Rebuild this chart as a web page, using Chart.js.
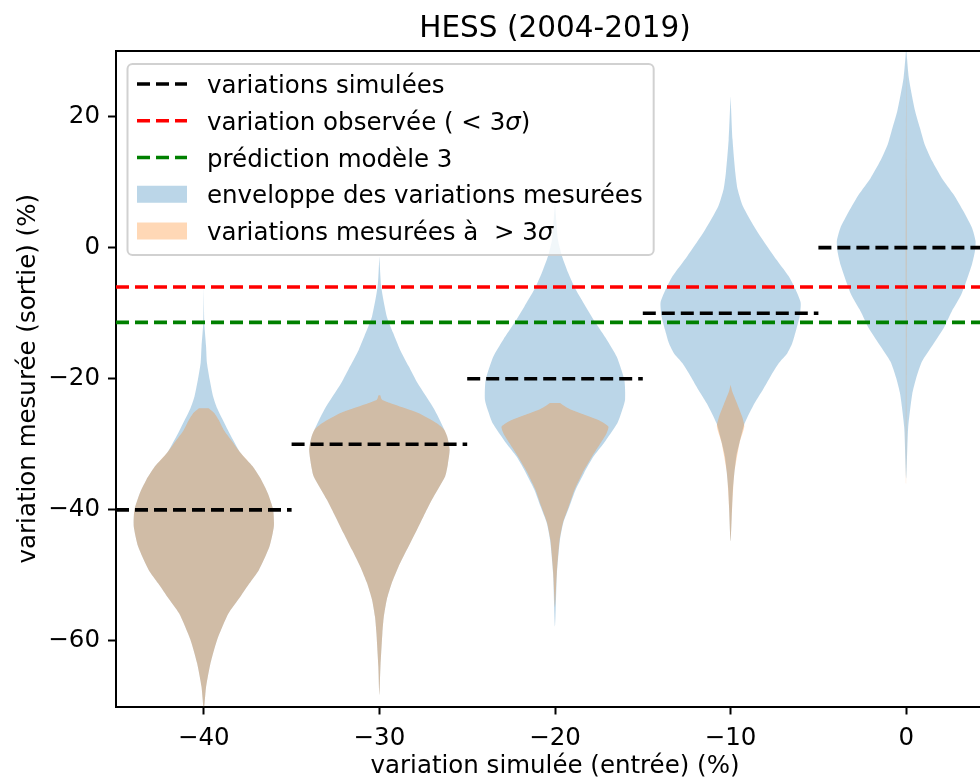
<!DOCTYPE html>
<html lang="fr">
<head>
<meta charset="utf-8">
<title>HESS (2004-2019)</title>
<script src="https://cdn.jsdelivr.net/npm/chart.js@4.4.1/dist/chart.umd.min.js"></script>
<style>
    html, body { margin: 0; padding: 0; background: #fff; overflow: hidden; }
    canvas { display: block; }
</style>
</head>
<body>
<canvas id="violin-chart" width="994" height="780"></canvas>
<script>
// Simulated input variations (violin positions) and their expected outputs
const positions = [-40, -30, -20, -10, 0];
const simulatedVariation = [-40, -30, -20, -10, 0];
const observedVariation = -6;
const model3Prediction = -11.4;

// Tick labels
const xTickValues = [-40, -30, -20, -10, 0];
const yTickValues = [-60, -40, -20, 0, 20];

const envelopeM40 = [[-6, 0], [-11.5, 0.03], [-15.1, 0.13], [-17.6, 0.18], [-20.2, 0.34], [-22.7, 0.53], [-24.5, 0.76], [-27.8, 1.37], [-31.3, 2.09], [-33.4, 2.79], [-35.4, 3.27], [-37.5, 3.65], [-40.0, 3.95], [-42.5, 3.99], [-45.6, 3.74], [-49.2, 3.13], [-51.2, 2.6], [-53.2, 2.09], [-55.8, 1.4], [-59.8, 0.76], [-63.4, 0.38], [-67.0, 0.13], [-70.5, 0]];
const sigmaM40 = [[-24.5, 0.28], [-25.2, 0.58], [-26.3, 0.85], [-27.8, 1.14], [-29.5, 1.6], [-31.3, 2.09], [-33.4, 2.79], [-35.4, 3.27], [-37.5, 3.65], [-40.0, 3.95], [-42.5, 3.99], [-45.6, 3.74], [-49.2, 3.13], [-51.2, 2.6], [-53.2, 2.09], [-55.8, 1.4], [-59.8, 0.76], [-63.4, 0.38], [-67.0, 0.13], [-70.5, 0]];

const envelopeM30 = [[-1.3, 0], [-5.9, 0.1], [-10.5, 0.42], [-13.0, 0.78], [-15.6, 1.18], [-18.1, 1.67], [-20.7, 2.18], [-24.7, 3.13], [-28.8, 3.86], [-30.8, 4.0], [-33.0, 3.9], [-34.9, 3.74], [-38.5, 2.98], [-41.0, 2.51], [-43.6, 2.03], [-46.1, 1.56], [-48.7, 1.08], [-51.2, 0.7], [-53.7, 0.42], [-56.3, 0.25], [-58.8, 0.17], [-63.9, 0.06], [-68.2, 0]];
const sigmaM30 = [[-22.5, 0.05], [-23.2, 0.15], [-23.7, 0.61], [-25.2, 2.18], [-26.8, 3.27], [-27.8, 3.7], [-28.8, 3.86], [-30.8, 4.0], [-33.0, 3.9], [-34.9, 3.74], [-38.5, 2.98], [-41.0, 2.51], [-43.6, 2.03], [-46.1, 1.56], [-48.7, 1.08], [-51.2, 0.7], [-53.7, 0.42], [-56.3, 0.25], [-58.8, 0.17], [-63.9, 0.06], [-68.2, 0]];

const envelopeM20 = [[7.0, 0], [1.2, 0.17], [-1.3, 0.4], [-3.9, 0.76], [-6.4, 1.18], [-9.0, 1.75], [-11.5, 2.32], [-14.0, 2.94], [-16.6, 3.51], [-20.2, 3.95], [-23.2, 3.99], [-25.0, 3.8], [-26.8, 3.55], [-29.8, 2.79], [-31.9, 2.18], [-34.4, 1.65], [-36.9, 1.18], [-39.5, 0.82], [-42.0, 0.47], [-44.6, 0.28], [-49.7, 0.11], [-57.8, 0]];
const sigmaM20 = [[-23.7, 0.28], [-24.7, 0.89], [-26.3, 2.47], [-27.3, 3.04], [-28.3, 2.94], [-29.8, 2.6], [-31.9, 2.1], [-34.4, 1.56], [-36.9, 1.12], [-39.5, 0.78], [-42.0, 0.45], [-44.6, 0.26], [-49.7, 0.1], [-54.8, 0]];

const envelopeM10 = [[23.1, 0], [16.5, 0.11], [11.4, 0.27], [8.9, 0.4], [6.3, 0.7], [2.7, 1.46], [-1.3, 2.47], [-4.4, 3.32], [-6.4, 3.7], [-8.4, 3.99], [-10.5, 3.93], [-12.5, 3.74], [-14.6, 3.51], [-16.1, 3.23], [-17.6, 2.75], [-19.6, 2.28], [-21.7, 1.83], [-23.7, 1.37], [-26.8, 0.8], [-29.8, 0.5], [-31.9, 0.32], [-36.9, 0.13], [-44.8, 0]];
const sigmaM10 = [[-20.9, 0], [-22.0, 0.1], [-23.2, 0.28], [-25.8, 0.66], [-27.3, 0.78], [-29.8, 0.51], [-34.4, 0.21], [-39.5, 0.09], [-44.8, 0]];

const envelope0 = [[30.5, 0], [25.9, 0.15], [20.8, 0.51], [18.3, 0.78], [15.7, 1.06], [13.2, 1.48], [10.6, 2.03], [8.1, 2.7], [5.5, 3.27], [3.0, 3.75], [1.0, 3.95], [-0.6, 3.91], [-2.6, 3.74], [-7.2, 3.13], [-9.7, 2.6], [-12.3, 2.13], [-14.8, 1.52], [-17.4, 0.89], [-19.9, 0.57], [-22.4, 0.34], [-27.5, 0.11], [-35.2, 0]];
const sigma0 = [[30, 0], [10, 0.02], [-10, 0.02], [-36, 0]];

const envelopes = [envelopeM40, envelopeM30, envelopeM20, envelopeM10, envelope0];
const sigmas = [sigmaM40, sigmaM30, sigmaM20, sigmaM10, sigma0];

// Styles
const blueFill = 'rgba(31, 119, 180, 0.3)';
const orangeFill = 'rgba(255, 127, 14, 0.3)';
const dash = [13, 6];
const segmentHalfSpan = 5;
const fontSize = 24.5;

Chart.defaults.font.family = "'DejaVu Sans', sans-serif";
Chart.defaults.font.size = fontSize;
Chart.defaults.color = '#000';

// Build a closed violin outline (right side down, left side back up)
function outline(center, profile) {
    const right = profile.map(([y, w]) => ({ x: center + w, y: y }));
    const left = profile.slice().reverse().map(([y, w]) => ({ x: center - w, y: y }));
    if (profile[profile.length - 1][1] === 0) left.shift();
    return right.concat(left);
}

function fmtTick(value) {
    return value < 0 ? '\u2212' + Math.abs(value) : String(value);
}

const datasets = [];

// Reference lines on top
datasets.push({
    label: 'variation observée',
    data: [{ x: -45, y: observedVariation }, { x: 5, y: observedVariation }],
    borderColor: '#ff0000', borderWidth: 3.6, borderDash: dash, order: 0
});
datasets.push({
    label: 'prédiction modèle 3',
    data: [{ x: -45, y: model3Prediction }, { x: 5, y: model3Prediction }],
    borderColor: '#008000', borderWidth: 3.6, borderDash: dash, order: 0
});
simulatedVariation.forEach((v, i) => {
    datasets.push({
        label: 'variations simulées',
        data: [{ x: positions[i] - segmentHalfSpan, y: v }, { x: positions[i] + segmentHalfSpan, y: v }],
        borderColor: '#000', borderWidth: 3.6, borderDash: dash, order: 0
    });
});

// Violins: orange (> 3 sigma) above blue envelope
positions.forEach((p, i) => {
    datasets.push({
        label: 'variations mesurées > 3σ',
        data: outline(p, sigmas[i]),
        backgroundColor: orangeFill, borderColor: 'rgba(0,0,0,0)',
        fill: 'shape', tension: 0.2, order: 1
    });
    datasets.push({
        label: 'enveloppe des variations mesurées',
        data: outline(p, envelopes[i]),
        backgroundColor: blueFill, borderColor: 'rgba(0,0,0,0)',
        fill: 'shape', tension: 0.2, order: 2
    });
});

// Top spine
const framePlugin = {
    id: 'frame',
    afterDatasetsDraw(chart) {
        const { ctx, chartArea } = chart;
        ctx.save();
        ctx.strokeStyle = '#000';
        ctx.lineWidth = 2;
        ctx.beginPath();
        ctx.moveTo(chartArea.left, chartArea.top);
        ctx.lineTo(chartArea.right, chartArea.top);
        ctx.lineTo(chartArea.right, chartArea.bottom);
        ctx.stroke();
        ctx.restore();
    }
};

// Legend entries (drawn inside the axes, upper left)
const legendEntries = [
    { kind: 'line', color: '#000', parts: [{ t: 'variations simulées' }] },
    { kind: 'line', color: '#ff0000', parts: [{ t: 'variation observée ( < 3' }, { t: 'σ', italic: true }, { t: ')' }] },
    { kind: 'line', color: '#008000', parts: [{ t: 'prédiction modèle 3' }] },
    { kind: 'patch', color: blueFill, parts: [{ t: 'enveloppe des variations mesurées' }] },
    { kind: 'patch', color: orangeFill, parts: [{ t: 'variations mesurées à  > 3' }, { t: 'σ', italic: true }] }
];

const legendPlugin = {
    id: 'insideLegend',
    afterDraw(chart) {
        const { ctx, chartArea } = chart;
        const boxLeft = chartArea.left + 11.5;
        const boxTop = chartArea.top + 13;
        const handleX = boxLeft + 9.5;
        const handleW = 50;
        const textX = handleX + handleW + 20;
        const rowStart = boxTop + 20;
        const rowStep = 36.75;

        ctx.save();
        const fontFor = part => (part.italic ? 'italic ' : '') + fontSize + "px 'DejaVu Sans', sans-serif";
        let maxW = 0;
        legendEntries.forEach(e => {
            let w = 0;
            e.parts.forEach(part => { ctx.font = fontFor(part); w += ctx.measureText(part.t).width; });
            maxW = Math.max(maxW, w);
        });
        const boxW = textX + maxW + 11 - boxLeft;
        const boxH = 191;

        ctx.beginPath();
        ctx.roundRect(boxLeft, boxTop, boxW, boxH, 5);
        ctx.fillStyle = 'rgba(255,255,255,0.8)';
        ctx.fill();
        ctx.strokeStyle = 'rgba(204,204,204,0.9)';
        ctx.lineWidth = 2;
        ctx.stroke();

        legendEntries.forEach((e, i) => {
            const y = rowStart + i * rowStep;
            if (e.kind === 'line') {
                ctx.strokeStyle = e.color;
                ctx.lineWidth = 3.6;
                ctx.setLineDash(dash);
                ctx.beginPath();
                ctx.moveTo(handleX, y);
                ctx.lineTo(handleX + handleW, y);
                ctx.stroke();
                ctx.setLineDash([]);
            } else {
                ctx.fillStyle = e.color;
                ctx.fillRect(handleX, y - 8.5, handleW, 17);
            }
            let x = textX;
            ctx.fillStyle = '#000';
            ctx.textBaseline = 'alphabetic';
            ctx.textAlign = 'left';
            e.parts.forEach(part => {
                ctx.font = fontFor(part);
                ctx.fillText(part.t, x, y + 9);
                x += ctx.measureText(part.t).width;
            });
        });
        ctx.restore();
    }
};

const ctx = document.getElementById('violin-chart').getContext('2d');
window.violinChart = new Chart(ctx, {
    type: 'scatter',
    data: { datasets: datasets },
    options: {
        responsive: false,
        animation: false,
        events: [],
        showLine: true,
        layout: { padding: 0 },
        elements: { point: { radius: 0 } },
        plugins: {
            legend: { display: false },
            tooltip: { enabled: false },
            title: {
                display: true,
                text: 'HESS (2004-2019)',
                fullSize: false,
                color: '#000',
                font: { size: 29.5, weight: 'normal' },
                padding: { top: 12, bottom: 3.6 }
            }
        },
        scales: {
            x: {
                type: 'linear',
                min: -45,
                max: 5,
                afterBuildTicks: scale => { scale.ticks = xTickValues.map(v => ({ value: v })); },
                afterFit: scale => { scale.height = 73.5; },
                grid: { drawOnChartArea: false, tickLength: 8, tickWidth: 2, tickColor: '#000' },
                border: { color: '#000', width: 2 },
                ticks: { padding: 9, autoSkip: false, maxRotation: 0, callback: fmtTick },
                title: { display: true, text: 'variation simulée (entrée) (%)', padding: { top: 0, bottom: -1 } }
            },
            y: {
                type: 'linear',
                min: -70,
                max: 30,
                afterBuildTicks: scale => { scale.ticks = yTickValues.map(v => ({ value: v })); },
                afterFit: scale => { scale.width = 116; },
                grid: { drawOnChartArea: false, tickLength: 8, tickWidth: 2, tickColor: '#000' },
                border: { color: '#000', width: 2 },
                ticks: { padding: 8, autoSkip: false, callback: fmtTick },
                title: { display: true, text: 'variation mesurée (sortie) (%)', padding: { top: 14.3, bottom: 0 } }
            }
        }
    },
    plugins: [framePlugin, legendPlugin]
});
</script>
</body>
</html>
